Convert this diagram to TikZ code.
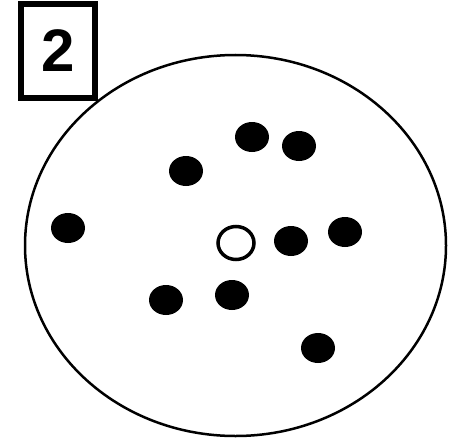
\documentclass[tikz,border=0pt]{standalone}
\usepackage{fontspec}
\setmainfont{Liberation Sans}
\usetikzlibrary{shapes.geometric}
\begin{document}
\begin{tikzpicture}[x=1pt,y=-1pt,
  blackdot/.style={ellipse,fill=black,inner sep=0pt,minimum width=34pt,minimum height=30pt},
  opendot/.style={ellipse,draw=black,line width=3.5pt,fill=white,inner sep=0pt,minimum width=36pt,minimum height=33pt},
  labelbox/.style={draw=black,line width=6pt,inner sep=0pt,minimum width=74pt,minimum height=93pt,font=\bfseries\fontsize{60}{60}\selectfont}]
\useasboundingbox (0,0) rectangle (462,441);
\node[ellipse,draw=black,line width=2.5pt,inner sep=0pt,minimum width=421pt,minimum height=381pt] (plate) at (235.5,245.5) {};
\node[labelbox,fill=white] (num) at (58,51) {2};
\node[blackdot] (d1) at (252,137) {};
\node[blackdot] (d2) at (299,146) {};
\node[blackdot] (d3) at (186,171) {};
\node[blackdot] (d4) at (68,228) {};
\node[blackdot] (d5) at (345,232) {};
\node[blackdot] (d6) at (291,241) {};
\node[opendot] (c0) at (236,243) {};
\node[blackdot] (d7) at (232,295) {};
\node[blackdot] (d8) at (166,300) {};
\node[blackdot] (d9) at (318,348) {};
\end{tikzpicture}
\end{document}
